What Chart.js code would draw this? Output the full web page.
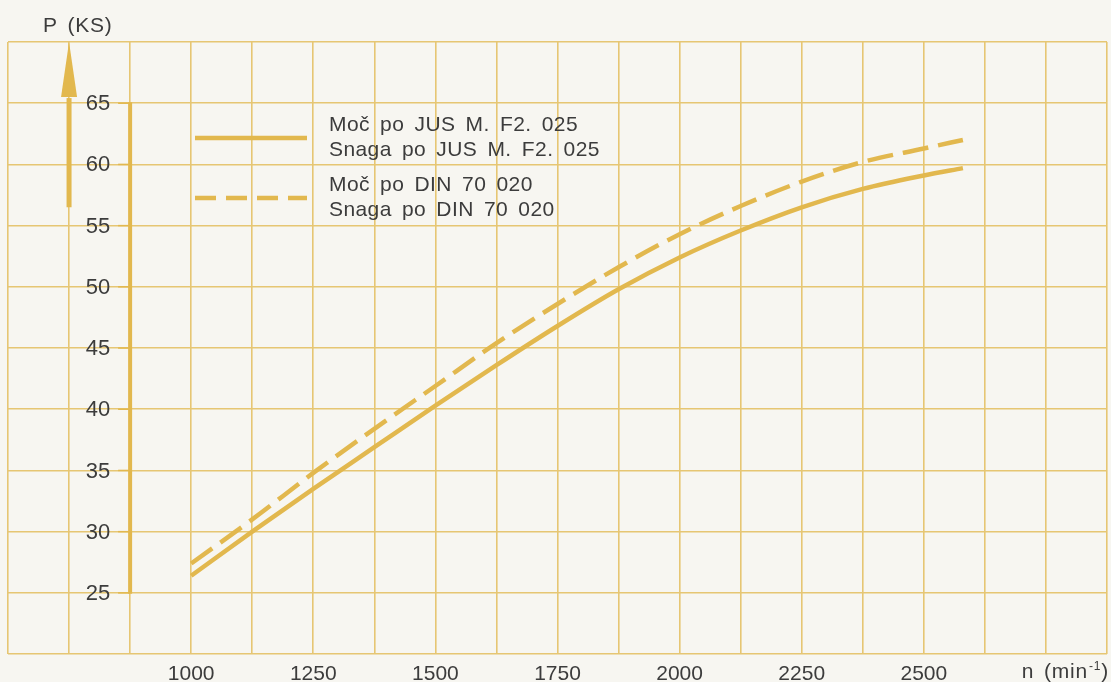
<!DOCTYPE html>
<html>
<head>
<meta charset="utf-8">
<script src="https://cdn.jsdelivr.net/npm/chart.js@4.4.1/dist/chart.umd.min.js"></script>
<style>
  html, body { margin: 0; padding: 0; background: #f7f6f1; }
  #wrap { width: 1111px; height: 682px; position: relative; }
</style>
</head>
<body>
<div id="wrap"><canvas id="powerChart"></canvas></div>
<script>
// engine speed (min-1) and power (KS)
const rpm = [1000, 1125, 1250, 1375, 1500, 1625, 1750, 1875, 2000, 2125, 2250, 2375, 2500, 2580];
const powerJus = [26.4, 30.0, 33.5, 36.9, 40.3, 43.6, 46.8, 49.8, 52.4, 54.6, 56.5, 58.0, 59.1, 59.7];
const powerDin = [27.4, 31.0, 34.8, 38.4, 41.9, 45.4, 48.6, 51.6, 54.3, 56.6, 58.6, 60.2, 61.3, 62.0];
const xTickLabels = [1000, 1250, 1500, 1750, 2000, 2250, 2500];
const yTickLabels = [25, 30, 35, 40, 45, 50, 55, 60, 65];
const jusLabel = ['Moč po JUS M. F2. 025', 'Snaga po JUS M. F2. 025'];
const dinLabel = ['Moč po DIN 70 020', 'Snaga po DIN 70 020'];
const yTitle = 'P (KS)';
const xTitle = ['n (min', '-1', ')'];

const gold = '#e2b84e';
const gridGold = '#e6c673';
const textColor = '#3c3c3c';
const fontFamily = '"Liberation Sans", Arial, sans-serif';

const toPoints = (xs, ys) => xs.map((x, i) => ({ x: x, y: ys[i] }));

// inner y axis with labels, the arrow, titles and the legend
const decorations = {
    id: 'decorations',
    beforeDatasetsDraw(chart) {
        const ctx = chart.ctx;
        const x = chart.scales.x;
        const y = chart.scales.y;
        ctx.save();
        ctx.strokeStyle = gold;
        ctx.fillStyle = gold;

        // vertical axis 25..65
        const ax = x.getPixelForValue(875);
        ctx.lineWidth = 4;
        ctx.beginPath();
        ctx.moveTo(ax, y.getPixelForValue(65) - 1);
        ctx.lineTo(ax, y.getPixelForValue(25) + 1);
        ctx.stroke();
        ctx.lineWidth = 1.5;
        ctx.font = '22px ' + fontFamily;
        ctx.textAlign = 'right';
        ctx.textBaseline = 'middle';
        yTickLabels.forEach(v => {
            const py = y.getPixelForValue(v);
            ctx.strokeStyle = gold;
            ctx.beginPath();
            ctx.moveTo(ax - 12, py);
            ctx.lineTo(ax, py);
            ctx.stroke();
            ctx.fillStyle = textColor;
            ctx.fillText(String(v), ax - 20, py + 1);
        });

        // arrow
        const arx = x.getPixelForValue(750);
        const tip = y.getPixelForValue(70);
        const headBase = y.getPixelForValue(65.5);
        ctx.strokeStyle = gold;
        ctx.fillStyle = gold;
        ctx.lineWidth = 5;
        ctx.beginPath();
        ctx.moveTo(arx, y.getPixelForValue(56.5));
        ctx.lineTo(arx, headBase + 1);
        ctx.stroke();
        ctx.beginPath();
        ctx.moveTo(arx, tip);
        ctx.lineTo(arx - 8, headBase);
        ctx.lineTo(arx + 8, headBase);
        ctx.closePath();
        ctx.fill();
        ctx.restore();
    },
    afterDraw(chart) {
        const ctx = chart.ctx;
        const area = chart.chartArea;
        ctx.save();
        ctx.fillStyle = textColor;
        ctx.textBaseline = 'middle';
        ctx.letterSpacing = '0.8px';
        ctx.wordSpacing = '3px';

        // y title
        ctx.font = '21px ' + fontFamily;
        ctx.textAlign = 'left';
        ctx.fillText(yTitle, area.left + 35, 26);

        // x title at right end
        const big = '21px ' + fontFamily;
        const small = '12px ' + fontFamily;
        ctx.font = big;
        const w0 = ctx.measureText(xTitle[0]).width;
        const w2 = ctx.measureText(xTitle[2]).width;
        ctx.font = small;
        const w1 = ctx.measureText(xTitle[1]).width;
        let tx = 1109 - (w0 + w1 + w2 + 1);
        const ty = area.bottom + 18;
        ctx.font = big;
        ctx.fillText(xTitle[0], tx, ty);
        tx += w0 + 1;
        ctx.font = small;
        ctx.fillText(xTitle[1], tx, ty - 5);
        tx += w1;
        ctx.font = big;
        ctx.fillText(xTitle[2], tx, ty);

        // legend
        const rows = [
            { ds: chart.data.datasets[0], lines: jusLabel, top: 96 },
            { ds: chart.data.datasets[1], lines: dinLabel, top: 156 }
        ];
        rows.forEach(r => {
            const ly = area.top + r.top;
            ctx.strokeStyle = r.ds.borderColor;
            ctx.lineWidth = r.ds.borderWidth;
            ctx.setLineDash(r.ds.borderDash.length ? [21, 10] : []);
            ctx.beginPath();
            ctx.moveTo(area.left + 187, ly);
            ctx.lineTo(area.left + 299, ly);
            ctx.stroke();
            ctx.setLineDash([]);
            ctx.font = '21px ' + fontFamily;
            ctx.letterSpacing = '0.4px';
            ctx.wordSpacing = '4px';
            ctx.fillStyle = textColor;
            ctx.fillText(r.lines[0], area.left + 321, ly - 13);
            ctx.fillText(r.lines[1], area.left + 321, ly + 12);
        });
        ctx.restore();
    }
};

new Chart(document.getElementById('powerChart'), {
    type: 'line',
    data: {
        datasets: [{
            label: jusLabel.join(' / '),
            data: toPoints(rpm, powerJus),
            borderColor: gold,
            borderWidth: 4.5,
            borderDash: [],
            pointRadius: 0,
            cubicInterpolationMode: 'monotone',
            fill: false
        }, {
            label: dinLabel.join(' / '),
            data: toPoints(rpm, powerDin),
            borderColor: gold,
            borderWidth: 4.5,
            borderDash: [26, 10],
            pointRadius: 0,
            cubicInterpolationMode: 'monotone',
            fill: false
        }]
    },
    options: {
        responsive: true,
        maintainAspectRatio: false,
        animation: false,
        layout: { padding: { top: 42, right: 3, left: 8, bottom: -12 } },
        plugins: {
            legend: { display: false },
            tooltip: { enabled: false }
        },
        scales: {
            x: {
                type: 'linear',
                min: 625,
                max: 2875,
                border: { display: false },
                grid: { color: gridGold, lineWidth: 1.6, drawTicks: false },
                ticks: {
                    stepSize: 125,
                    autoSkip: false,
                    maxRotation: 0,
                    padding: 4,
                    color: textColor,
                    font: { family: fontFamily, size: 21, lineHeight: 1.52 },
                    callback: v => xTickLabels.includes(v) ? String(v) : ''
                }
            },
            y: {
                min: 20,
                max: 70,
                border: { display: false },
                grid: { color: gridGold, lineWidth: 1.6, drawTicks: false },
                ticks: { stepSize: 5, display: false }
            }
        }
    },
    plugins: [decorations]
});
</script>
</body>
</html>
